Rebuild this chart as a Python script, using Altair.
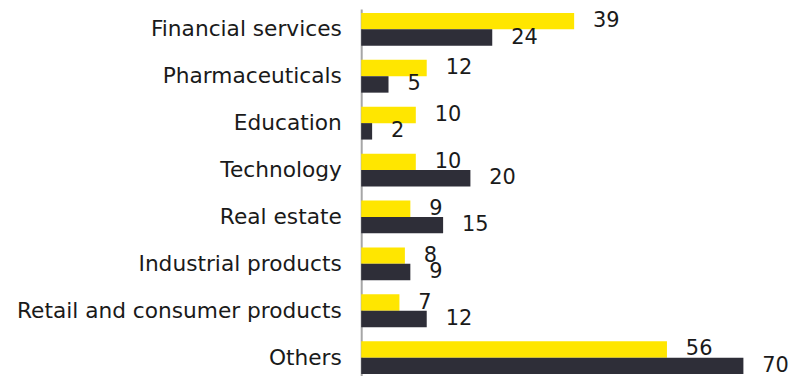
import altair as alt
import pandas as pd

categories = ["Financial services", "Pharmaceuticals", "Education", "Technology",
              "Real estate", "Industrial products", "Retail and consumer products", "Others"]
series_names = ["Series A", "Series B"]
values_a = [39, 12, 10, 10, 9, 8, 7, 56]
values_b = [24, 5, 2, 20, 15, 9, 12, 70]
colors = ["#FFE600", "#2E2E38"]

rows = []
for c, a, b in zip(categories, values_a, values_b):
    rows.append({"category": c, "series": series_names[0], "value": a})
    rows.append({"category": c, "series": series_names[1], "value": b})
df = pd.DataFrame(rows)

FONT = "DejaVu Sans"

base = alt.Chart(df).encode(
    y=alt.Y("category:N", sort=categories,
            scale=alt.Scale(paddingInner=0.3, paddingOuter=0.085),
            axis=alt.Axis(title=None, ticks=False, labelPadding=20, labelFontSize=21.8,
                          labelFont=FONT, labelColor="#1A1A1A", domainColor="#A6A6A6",
                          domainWidth=2, labelLimit=400)),
    yOffset=alt.YOffset("series:N", sort=series_names,
                        scale=alt.Scale(paddingInner=0, paddingOuter=0)),
)

bars = base.mark_bar().encode(
    x=alt.X("value:Q", scale=alt.Scale(domain=[0, 80]), axis=None),
    color=alt.Color("series:N", scale=alt.Scale(domain=series_names, range=colors), legend=None),
)

labels = base.mark_text(align="left", baseline="middle", dx=19, dy=0, fontSize=21,
                        font=FONT, color="#1A1A1A").encode(
    x=alt.X("value:Q", scale=alt.Scale(domain=[0, 80])),
    text=alt.Text("value:Q"),
)

chart = (bars + labels).properties(
    width=439, height=371,
    autosize=alt.AutoSizeParams(type="none"),
    padding={"left": 355, "top": 0, "right": 0, "bottom": 0},
).configure_view(stroke=None)

chart.save("out.html", embed_options={"renderer": "svg", "actions": False})
